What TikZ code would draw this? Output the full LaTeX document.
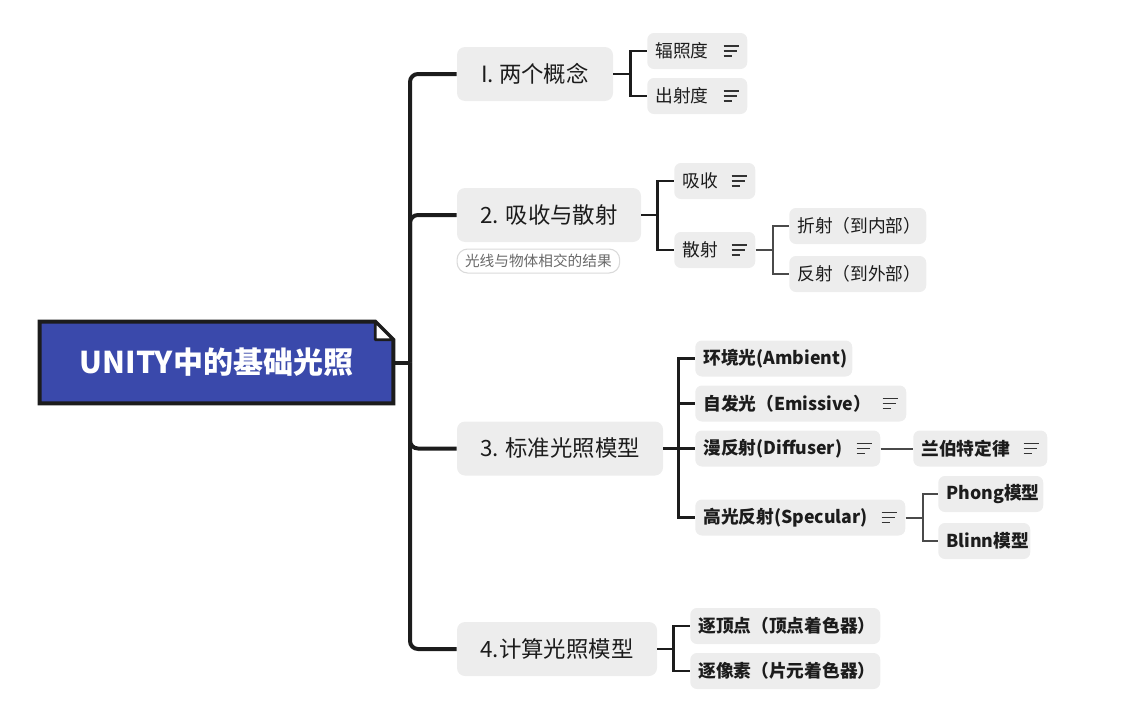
\documentclass[tikz,border=0pt]{standalone}
\usepackage{fontspec}
\setmainfont{Noto Sans CJK SC}
\usepackage{tikz}
\usetikzlibrary{positioning,calc,backgrounds}
\definecolor{mBoxGray}{HTML}{EDEDED}
\definecolor{mRootBlue}{HTML}{3A49AB}
\definecolor{mInk}{HTML}{1C1C1C}
\definecolor{mTwig}{HTML}{4A4A4A}
\definecolor{mNoteText}{HTML}{6A6A6A}
\definecolor{mNoteEdge}{HTML}{DADADA}
\tikzset{
 topic/.style={fill=mBoxGray, rounded corners=6pt, minimum height=40.5pt, inner sep=0pt, text=mInk, font=\fontsize{16.8}{20}\selectfont},
 leaf/.style={fill=mBoxGray, rounded corners=5pt, minimum height=27pt, inner xsep=6pt, inner ysep=0pt, anchor=west, text=mInk, font=\fontsize{13.3}{16}\selectfont},
 boldleaf/.style={leaf, font=\bfseries\fontsize{13.3}{16}\selectfont},
 trunk/.style={mInk, line width=3pt},
 branch/.style={mInk, line width=2.2pt},
 twig/.style={mTwig, line width=1.5pt},
}
\newcommand{\leafnode}[6][leaf]{%
 \node[#1, text width=#5*0.75pt-12pt] (#2) at (#3,#4) {#6};}
\newcommand{\notemark}[1]{%
 \draw[mInk!90, line width=1.1pt] ($(#1.east)+(-24,-5)$) -- ++(15,0)
  ($(#1.east)+(-24,0)$) -- ++(13,0)
  ($(#1.east)+(-24,5)$) -- ++(8,0);}

\begin{document}
\begin{tikzpicture}[x=0.75pt, y=-0.75pt]
\useasboundingbox (0,0) rectangle (1125,721);
% root
\node[text=white, font=\bfseries\fontsize{22.5}{26}\selectfont, minimum width=353*0.75pt, minimum height=81*0.75pt, inner sep=0pt] (root) at (216.5,362.5) {UNITY中的基础光照};
\begin{scope}[on background layer]
\draw[mInk, line width=3pt, fill=mRootBlue] (root.north west) -- ($(root.north east)+(-18,0)$) -- ($(root.north east)+(0,18)$) -- (root.south east) -- (root.south west) -- cycle;
\draw[mInk, line width=2pt, fill=white, line join=round] ($(root.north east)+(-18,0)$) -- ($(root.north east)+(-18,18)$) -- ($(root.north east)+(0,18)$) -- cycle;
\end{scope}

% main topics
\node[topic, minimum width=156*0.75pt] (t1) at (535,74) {I. 两个概念};
\node[topic, minimum width=184*0.75pt] (t2) at (549,215) {2. 吸收与散射};
\node[topic, minimum width=206*0.75pt] (t3) at (560,448.5) {3. 标准光照模型};
\node[topic, minimum width=200*0.75pt] (t4) at (557,649) {4.计算光照模型};
\node[draw=mNoteEdge, line width=0.8pt, fill=white, rounded corners=8pt, text=mNoteText, font=\fontsize{11}{13}\selectfont, minimum height=18pt, inner xsep=6pt, inner ysep=0pt, anchor=north west] (n2) at (456.5,248.5) {光线与物体相交的结果};

\coordinate (hub) at (410,362.5);
\draw[trunk] (root.east) -- (hub);
\foreach \t in {t1,t2,t3,t4}
 \draw[trunk, rounded corners=6pt] (hub) |- (\t.west);

% 1
\leafnode{c11}{647}{51}{100}{辐照度}
\leafnode{c12}{647}{96}{100}{出射度}
% 2
\leafnode{c21}{674}{181}{81}{吸收}
\leafnode{c22}{674}{250}{81}{散射}
\leafnode{g1}{789}{226}{137}{折射（到内部）}
\leafnode{g2}{789}{274}{137}{反射（到外部）}
% 3
\leafnode[boldleaf]{a1}{695}{358.5}{157}{环境光(Ambient)}
\leafnode[boldleaf]{a2}{695}{403.5}{211}{自发光（Emissive）}
\leafnode[boldleaf]{a3}{695}{448.5}{185}{漫反射(Diffuser)}
\leafnode[boldleaf]{a4}{695}{517.5}{210}{高光反射(Specular)}
\leafnode[boldleaf]{b1}{913}{448.5}{134}{兰伯特定律}
\leafnode[boldleaf]{p1}{938}{494}{105}{Phong模型}
\leafnode[boldleaf]{p2}{938}{541}{92}{Blinn模型}
% 4
\leafnode[boldleaf]{d1}{690}{626}{190}{逐顶点（顶点着色器）}
\leafnode[boldleaf]{d2}{690}{671}{190}{逐像素（片元着色器）}

\foreach \n in {c11,c12,c21,c22,a2,a3,a4,b1}{\notemark{\n}}

\draw[branch] (t1.east) -- ++(17,0) coordinate (j1) |- (c11.west) (j1) |- (c12.west);
\draw[branch] (t2.east) -- ++(16,0) coordinate (j2) |- (c21.west) (j2) |- (c22.west);
\draw[twig] (c22.east) -- ++(17,0) coordinate (j22) |- (g1.west) (j22) |- (g2.west);
\draw[branch] (t3.east) -- ++(15,0) coordinate (j3) |- (a1.west) (j3) |- (a2.west) (j3) |- (a3.west) (j3) |- (a4.west);
\draw[twig] (a3.east) -- (b1.west);
\draw[twig] (a4.east) -- ++(17,0) coordinate (j34) |- (p1.west) (j34) |- (p2.west);
\draw[branch] (t4.east) -- ++(16,0) coordinate (j4) |- (d1.west) (j4) |- (d2.west);
\end{tikzpicture}
\end{document}
